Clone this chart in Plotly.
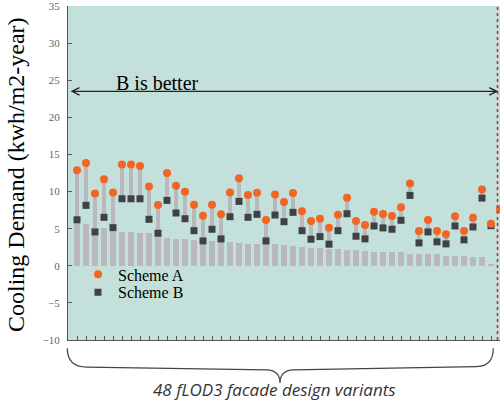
import plotly.graph_objects as go

# ---------------- data ----------------
variants = list(range(1, 49))
scheme_a = [12.87, 13.85, 9.75, 11.67, 9.88, 13.64, 13.64, 13.45, 10.69, 8.18,
            12.51, 10.77, 9.96, 8.22, 6.75, 8.22, 6.93, 9.88, 11.80, 9.52,
            9.83, 6.17, 9.61, 8.58, 9.79, 7.33, 6.03, 6.34, 5.14, 6.88,
            9.16, 6.03, 5.50, 7.28, 6.97, 6.71, 7.87, 11.09, 4.69, 6.17,
            4.69, 4.25, 6.66, 4.69, 6.48, 10.29, 5.67, 7.60]
scheme_b = [6.20, 8.14, 4.56, 6.53, 5.14, 9.03, 9.03, 9.03, 6.26, 4.39,
            8.81, 7.11, 6.34, 4.73, 3.35, 4.92, 3.62, 6.61, 8.67, 6.53,
            6.93, 3.35, 6.84, 5.94, 7.20, 4.73, 3.58, 3.93, 2.91, 4.73,
            7.01, 3.98, 3.62, 5.36, 5.10, 4.92, 6.13, 9.48, 3.08, 4.56,
            3.22, 2.95, 5.36, 3.49, 5.23, 9.12, 5.40, None]
baseline = [5.77, 5.59, 5.05, 5.14, 4.96, 4.60, 4.60, 4.43, 4.38, 4.00,
            3.75, 3.62, 3.58, 3.49, 3.44, 3.30, 3.25, 3.22, 3.13, 3.00,
            3.00, 2.91, 2.91, 2.77, 2.64, 2.55, 2.46, 2.37, 2.23, 2.23,
            2.15, 2.10, 2.01, 1.88, 1.88, 1.79, 1.79, 1.65, 1.65, 1.56,
            1.56, 1.34, 1.34, 1.34, 1.25, 1.21, 0.22, 0.0]
y_ticks = [-10, -5, 0, 5, 10, 15, 20, 25, 30, 35]

# ---------------- styling ----------------
W, H = 500, 402
ML, MR, MT, MB = 68, 0, 4, 62
PW, PH = W - ML - MR, H - MT - MB
BG = "rgb(196,224,219)"
GRAY = "rgb(184,184,189)"
ORANGE = "rgb(242,101,34)"
DARK = "rgb(62,66,70)"
SERIF = "Liberation Serif"


def px_x(p):
    return (p - ML) / PW


def px_y(p):
    return (H - MB - p) / PH


stem_len = [None if b is None else a - b for a, b in zip(scheme_a, scheme_b)]

fig = go.Figure()
fig.add_trace(go.Bar(x=variants, y=baseline, width=0.74, marker_color=GRAY,
                     marker_line_width=0, showlegend=False, hoverinfo="skip"))
fig.add_trace(go.Bar(x=variants, y=stem_len, base=scheme_b, width=0.44,
                     marker_color=GRAY, marker_line_width=0, showlegend=False,
                     hoverinfo="skip"))
fig.add_trace(go.Scatter(x=variants, y=scheme_b, mode="markers", name="Scheme B",
                         marker=dict(symbol="square", size=7, color=DARK),
                         legend="legend2"))
fig.add_trace(go.Scatter(x=variants, y=scheme_a, mode="markers", name="Scheme A",
                         marker=dict(symbol="circle", size=8, color=ORANGE),
                         legend="legend"))

fig.update_layout(
    width=W, height=H,
    margin=dict(l=ML, r=MR, t=MT, b=MB),
    paper_bgcolor="white",
    plot_bgcolor=BG,
    barmode="overlay",
    bargap=0,
    font=dict(family=SERIF, color="black"),
    legend=dict(x=px_x(78), y=px_y(274), xanchor="left", yanchor="middle",
                bgcolor="rgba(0,0,0,0)", font=dict(family=SERIF, size=16, color="black"),
                borderwidth=0, itemwidth=30),
    legend2=dict(x=px_x(78), y=px_y(292), xanchor="left", yanchor="middle",
                 bgcolor="rgba(0,0,0,0)", font=dict(family=SERIF, size=16, color="black"),
                 borderwidth=0, itemwidth=30),
    xaxis=dict(range=[0, 48], tickvals=variants, ticks="inside", ticklen=4,
               tickcolor="#555", showticklabels=False, showline=True,
               linecolor="#555", linewidth=1, showgrid=False, zeroline=False),
    yaxis=dict(range=[-10, 35], tickvals=y_ticks, ticks="inside", ticklen=4,
               tickcolor="#555", showline=True, linecolor="#555", linewidth=1,
               showgrid=False, zeroline=False, ticklabelstandoff=5,
               ticklabeloverflow="allow",
               tickfont=dict(family=SERIF, size=11, color="#666")),
)

# y-axis title
fig.add_annotation(text="Cooling Demand (kwh/m2-year)", textangle=-90,
                   xref="paper", yref="paper", x=px_x(16), y=px_y(174),
                   xanchor="center", yanchor="middle", showarrow=False,
                   font=dict(family=SERIF, size=24, color="black"))

# double-headed arrow "B is better"
fig.add_annotation(x=47.8, y=23.5, ax=0.12, ay=23.5, xref="x", yref="y",
                   axref="x", ayref="y", text="", showarrow=True,
                   arrowhead=5, startarrowhead=5, arrowside="end+start",
                   arrowsize=1.2, startarrowsize=1.2, arrowwidth=1.2,
                   arrowcolor="#222")
fig.add_annotation(text="B is better", xref="paper", yref="paper",
                   x=px_x(114), y=px_y(81), xanchor="left", yanchor="middle",
                   showarrow=False, font=dict(family=SERIF, size=20, color="black"))

# red dotted boundary at right
fig.add_shape(type="line", xref="paper", yref="paper", x0=px_x(497.5), x1=px_x(497.5),
              y0=0, y1=1, line=dict(color="rgb(200,50,40)", width=1.6, dash="dot"))

# curly brace under the axis
pts = {
    "l0": (67.3, 348.3), "lc": (67.3, 367.0), "l1": (86.7, 367.3),
    "m0": (266.7, 370.0), "mc0": (280.0, 370.5), "tip": (280.0, 383.3),
    "m1": (293.3, 370.0), "r0": (476.7, 366.7), "rc": (493.3, 366.5),
    "r1": (493.3, 348.3),
}


def P(k):
    x, y = pts[k]
    return f"{px_x(x):.5f},{px_y(y):.5f}"


path = (f"M {P('l0')} Q {P('lc')} {P('l1')} L {P('m0')} Q {P('mc0')} {P('tip')} "
        f"Q {P('mc0')} {P('m1')} L {P('r0')} Q {P('rc')} {P('r1')}")
fig.add_shape(type="path", xref="paper", yref="paper", path=path,
              line=dict(color="#444", width=1.2))

fig.add_annotation(text="<i>48 fLOD3 facade design variants</i>", xref="paper",
                   yref="paper", x=px_x(274.5), y=px_y(390), xanchor="center",
                   yanchor="middle", showarrow=False,
                   font=dict(family="Open Sans", size=17, color="#333"))

fig.write_html(
    "out.html",
    config={"displayModeBar": False},
    post_script=("document.body.style.margin='0';"
                 "document.body.style.overflow='hidden';"
                 "document.documentElement.style.overflow='hidden';"),
)
